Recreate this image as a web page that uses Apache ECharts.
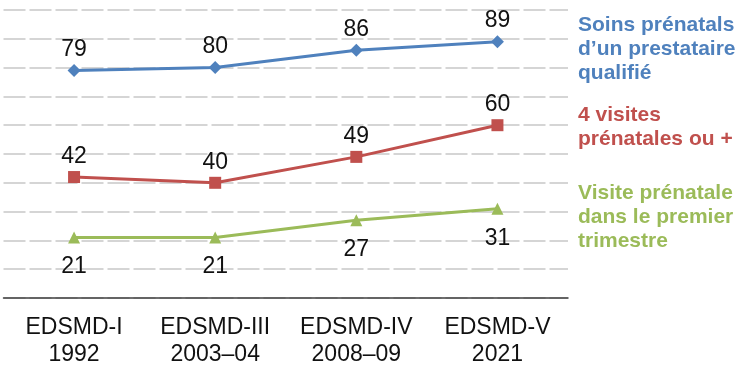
<!DOCTYPE html>
<html><head><meta charset="utf-8">
<script src="https://cdn.jsdelivr.net/npm/echarts@6/dist/echarts.min.js"></script>
<style>html,body{margin:0;padding:0;background:#fff}#c{width:738px;height:368px}</style>
</head><body><div id="c"></div>
<script>
const categories = ['EDSMD-I\n1992', 'EDSMD-III\n2003–04', 'EDSMD-IV\n2008–09', 'EDSMD-V\n2021'];
const soinsQualifie = [79, 80, 86, 89];
const quatreVisites = [42, 40, 49, 60];
const premierTrimestre = [21, 21, 27, 31];
const seriesNames = ['Soins prénatals\nd’un prestataire\nqualifié', '4 visites\nprénatales ou +', 'Visite prénatale\ndans le premier\ntrimestre'];
const colors = ['#4F81BD', '#C0504D', '#9BBB59'];

const chart = echarts.init(document.getElementById('c'));
const font = 'Liberation Sans, Arial, sans-serif';
function mk(name, data, color, symbol, pos, dist) {
  return {
    name: name, type: 'line', data: data,
    symbol: symbol, symbolSize: symbol === 'diamond' ? 13 : 12,
    lineStyle: {color: color, width: 3},
    itemStyle: {color: color},
    label: {show: true, position: pos, distance: dist, color: '#111', fontSize: 23, fontFamily: font},
    animation: false
  };
}
chart.setOption({
  animation: false,
  grid: {left: 3.5, right: 170, top: 10, bottom: 64},
  xAxis: {
    type: 'category', data: categories, boundaryGap: true,
    axisLine: {lineStyle: {color: '#404040', width: 1.5}},
    axisTick: {show: false},
    axisLabel: {interval: 0, color: '#111', fontSize: 23, lineHeight: 27, margin: 16, fontFamily: font}
  },
  yAxis: {
    type: 'value', min: 0, max: 100, interval: 10,
    axisLabel: {show: false}, axisLine: {show: false}, axisTick: {show: false},
    splitLine: {lineStyle: {color: '#c8c8c8', width: 1.5, type: [22, 4]}}
  },
  series: [
    mk(seriesNames[0], soinsQualifie, colors[0], 'diamond', 'top', 3),
    mk(seriesNames[1], quatreVisites, colors[1], 'rect', 'top', 3),
    mk(seriesNames[2], premierTrimestre, colors[2], 'triangle', 'bottom', 12)
  ],
  graphic: [
    {type: 'text', left: 578, top: 13, style: {text: seriesNames[0], fill: colors[0], font: 'bold 21px ' + font, lineHeight: 24}},
    {type: 'text', left: 578, top: 103, style: {text: seriesNames[1], fill: colors[1], font: 'bold 21px ' + font, lineHeight: 24}},
    {type: 'text', left: 578, top: 181, style: {text: seriesNames[2], fill: colors[2], font: 'bold 21px ' + font, lineHeight: 24}}
  ]
});
</script></body></html>
